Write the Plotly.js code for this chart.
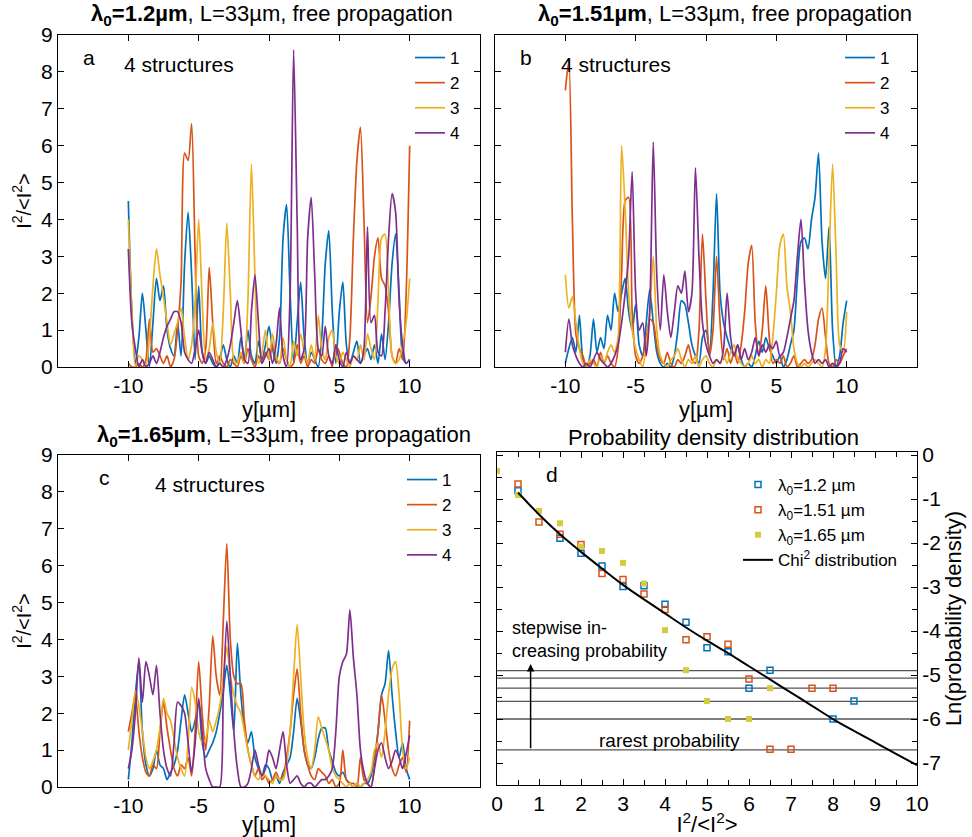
<!DOCTYPE html>
<html>
<head>
<meta charset="utf-8">
<script src="https://cdn.plot.ly/plotly-3.0.1.min.js"></script>
<style>html,body{margin:0;padding:0;background:#fff;}#chart{width:972px;height:837px;}</style>
</head>
<body>
<div id="chart"></div>
<script>
// ---------- DATA ----------
// sampling positions y[µm] for panels a-c (step 0.25 from -10 to 10)
const yPos = [];
for (let i = 0; i <= 80; i++) yPos.push(-10 + 0.25 * i);

const seriesNames = ['1', '2', '3', '4'];

// Panel a: λ0 = 1.2 µm
const a1 = [4.5,1.5,0.1,0.8, 2.0,1.0,0.0,1.2, 2.4,1.8,2.2,1.0, 0.5,0.3,1.2,0.3, 2.8,4.2,2.5,0.2, 2.2,0.4,0.1,0.3, 0.1,0.0,0.2,0.6, 0.2,0.0,0.3,0.1, 0.8,0.2,1.0,0.3, 0.1,0.7,0.2,0.6, 1.1,0.5,0.1,0.8, 3.5,4.4,2.0,0.1, 1.2,2.3,0.8,0.1, 0.4,0.2,0.0,0.8, 2.8,3.7,1.5,0.1, 1.5,2.3,0.6,0.1, 0.4,0.7,0.1,0.3, 0.5,0.2,0.6,0.1, 0.9,0.2,1.2,2.8, 3.6,2.0,0.3,0.1, 0.2];
const a2 = [0.1,0.0,0.0,0.1, 0.0,0.2,1.3,0.4, 0.5,0.3,0.1,0.3, 0.0,0.2,1.0,2.3, 5.8,5.6,6.6,3.0, 0.3,0.1,0.5,2.7, 1.2,0.1,0.3,0.1, 0.0,0.2,0.1,0.0, 0.3,0.1,0.5,0.2, 0.0,0.3,0.1,0.4, 0.2,0.6,0.2,0.1, 0.5,0.2,0.0,0.1, 0.6,0.1,0.3,0.0, 0.2,0.1,0.5,0.2, 0.1,0.3,0.0,0.6, 0.4,0.1,0.0,0.8, 3.5,5.6,6.5,4.0, 1.2,1.9,3.0,3.5, 2.4,2.2,1.5,0.3, 0.1,0.5,0.2,2.0, 6.0];
const a3 = [4.0,1.5,0.0,0.3, 0.2,0.0,0.8,2.2, 3.2,2.5,1.9,1.2, 0.6,0.9,1.2,1.6, 0.8,0.2,0.6,1.8, 4.0,1.8,0.2,0.5, 1.2,0.4,0.1,1.5, 3.9,2.0,0.2,0.1, 0.4,0.1,1.8,5.5, 2.5,0.1,0.4,1.0, 0.2,0.9,0.3,0.1, 0.8,0.2,0.0,0.7, 0.3,0.9,0.4,0.1, 0.6,0.2,1.4,0.5, 0.2,0.8,1.0,0.3, 0.1,0.4,0.2,0.0, 0.3,0.2,0.6,0.2, 0.9,0.5,0.2,1.8, 3.5,3.6,2.0,0.3, 0.1,0.2,0.6,1.2, 2.4];
const a4 = [3.2,1.2,0.5,0.0, 0.2,0.0,0.1,0.3, 0.1,0.4,0.8,1.1, 1.3,1.5,1.5,1.2, 0.4,0.2,0.1,0.5, 1.0,0.4,0.1,0.4, 0.2,0.0,0.1,0.0, 0.2,0.6,1.2,1.8, 1.0,0.2,0.1,1.5, 2.5,1.2,0.1,0.3, 0.5,0.1,0.6,1.6, 0.3,0.0,2.0,8.6, 4.0,0.2,0.5,3.5, 4.6,2.5,0.5,0.3, 1.1,0.3,0.1,0.6, 0.2,0.0,0.4,0.1, 0.3,0.2,0.1,0.5, 3.8,1.2,1.4,0.4, 0.3,1.5,3.5,4.7, 4.2,1.8,0.6,0.1, 0.2];

// Panel b: λ0 = 1.51 µm
const b1 = [0.1,0.5,0.8,0.4, 1.4,0.2,0.0,0.3, 1.3,0.4,0.8,0.5, 1.4,1.0,2.0,1.5, 2.0,2.4,1.5,1.0, 1.7,0.6,0.3,1.2, 2.1,1.2,0.4,0.1, 0.0,0.1,0.0,0.3, 1.0,1.8,1.7,1.2, 0.6,0.3,0.1,0.8, 1.0,0.4,2.0,4.7, 2.0,1.2,0.8,0.5, 0.3,0.6,0.2,0.0, 0.1,0.0,0.3,0.7, 0.4,0.8,0.5,0.3, 0.1,0.3,0.0,0.2, 0.6,1.0,2.4,3.4, 3.5,3.2,4.0,4.6, 5.8,3.4,2.4,3.8, 1.0,0.0,0.3,1.2, 1.8];
const b2 = [7.5,8.3,4.0,0.9, 0.5,0.3,0.0,0.1, 0.2,0.0,0.4,0.1, 0.3,0.1,0.0,0.5, 2.5,4.5,4.6,1.5, 0.3,0.1,0.3,0.8, 1.3,1.2,0.6,0.2, 0.1,0.4,0.1,0.0, 0.2,0.1,0.3,0.6, 0.2,0.1,1.0,3.6, 1.8,0.3,1.0,3.0, 1.2,0.2,0.5,0.1, 0.4,0.1,0.6,1.5, 2.8,3.3,1.2,0.3, 1.0,2.2,0.8,0.1, 0.2,0.1,0.3,0.0, 0.1,0.3,0.0,0.1, 0.2,0.1,0.2,0.6, 1.3,1.6,0.8,0.1, 0.0,0.2,0.1,0.3, 0.5];
const b3 = [2.5,1.6,1.9,1.2, 0.5,0.1,0.0,0.2, 0.1,0.0,0.3,0.1, 0.4,0.6,0.4,0.8, 6.0,4.3,2.0,1.0, 0.5,0.2,0.0,0.6, 1.5,3.0,1.0,0.3, 0.1,0.0,0.2,0.3, 0.5,0.2,0.0,0.2, 0.1,0.3,0.0,0.2, 0.3,0.1,0.0,0.2, 0.1,0.3,0.1,0.4, 0.6,0.2,0.1,0.0, 0.1,0.3,0.1,0.2, 0.0,0.2,0.1,0.8, 2.0,3.3,3.6,2.2, 1.5,0.5,0.1,0.0, 0.1,0.0,0.1,0.2, 0.1,0.0,0.5,3.0, 5.5,3.0,0.6,0.4, 1.5];
const b4 = [0.4,1.3,0.6,0.3, 0.1,0.0,0.1,0.0, 0.2,0.4,0.2,0.1, 0.0,0.1,0.3,0.6, 1.2,2.0,3.0,5.3, 2.0,1.0,1.2,0.3, 1.5,6.1,2.5,1.0, 2.5,1.5,0.8,1.5, 2.2,2.0,2.6,1.5, 2.0,5.4,3.0,1.2, 0.6,0.3,0.1,0.2, 0.1,0.5,2.0,0.8, 0.3,0.6,0.2,0.5, 0.2,0.4,0.8,0.3, 0.6,0.4,0.6,0.5, 0.7,0.3,0.4,0.8, 1.3,1.8,3.0,4.0, 2.3,1.0,0.4,0.1, 0.2,0.1,0.2,0.0, 0.1,0.0,0.1,0.5, 0.4];

// Panel c: λ0 = 1.65 µm
const c1 = [0.2,1.2,2.5,3.4, 1.5,0.6,0.3,0.5, 1.0,0.6,0.5,0.2, 0.4,0.6,1.0,1.8, 2.5,2.0,1.5,1.8, 2.3,1.2,0.8,1.0, 1.2,1.5,2.0,2.6, 3.3,2.5,1.5,3.9, 2.5,1.6,1.2,1.5, 0.8,0.5,0.3,0.6, 0.5,0.2,0.3,0.1, 0.4,0.6,0.8,1.5, 2.4,1.8,1.0,0.6, 0.5,0.8,1.3,1.6, 1.6,1.0,0.7,0.4, 0.3,0.4,0.2,0.1, 0.0,0.1,0.0,0.1, 0.1,0.3,0.8,1.5, 2.5,2.8,3.7,2.5, 1.5,0.8,1.2,0.5, 0.2];
const c2 = [1.5,2.0,2.5,1.5, 0.8,0.4,0.3,0.6, 0.5,1.5,2.3,1.6, 1.0,0.5,0.3,0.6, 0.5,0.8,0.3,1.5, 3.4,2.0,1.0,2.2, 4.1,3.0,2.5,4.5, 6.6,4.0,3.0,2.8, 2.8,1.8,1.0,0.6, 0.3,0.5,0.2,0.3, 0.1,0.2,0.4,0.2, 0.3,0.8,1.5,2.5, 3.2,2.0,1.0,0.6, 0.3,0.2,0.5,0.4, 0.3,0.1,0.2,0.0, 0.1,1.0,0.2,0.1, 0.1,0.0,0.8,0.2, 0.1,0.0,0.6,1.5, 2.5,1.8,1.0,0.5, 0.3,0.6,0.8,0.4, 1.8];
const c3 = [1.0,1.8,2.6,2.2, 1.5,0.8,0.5,0.7, 1.0,1.6,2.4,2.0, 1.8,1.3,0.8,0.5, 0.3,1.2,2.7,2.3, 1.5,1.2,1.3,1.8, 1.5,1.8,2.2,3.0, 3.8,3.0,2.5,2.2, 2.0,1.5,1.0,0.6, 0.3,0.2,0.4,0.3, 0.2,0.1,0.3,0.2, 0.2,0.6,1.5,3.0, 4.4,3.0,1.5,0.8, 0.5,1.0,1.9,1.6, 1.3,1.0,0.5,0.3, 0.2,0.1,0.0,0.1, 0.0,0.1,0.0,0.1, 0.2,0.4,1.0,1.2, 0.8,1.5,2.5,3.2, 3.4,2.5,1.0,0.5, 0.8];
const c4 = [0.5,1.0,2.0,3.5, 2.3,3.4,3.0,2.5, 3.3,2.0,1.0,0.5, 0.3,1.2,2.3,2.2, 2.0,1.2,0.4,1.2, 2.4,1.5,0.5,0.2, 0.0,0.0,0.0,2.5, 4.5,3.0,1.5,0.5, 0.0,0.0,0.1,0.5, 1.0,0.6,0.3,0.5, 1.0,0.8,0.5,1.0, 1.5,0.6,0.1,0.2, 0.3,0.1,0.0,0.1, 0.1,0.0,0.1,0.2, 0.2,0.3,0.5,1.5, 3.0,3.4,3.6,4.8, 3.5,2.5,1.0,0.4, 0.1,0.0,0.5,1.0, 1.2,0.8,0.5,0.7, 1.0,0.8,0.5,0.9, 1.4];

// Panel d: probability density distribution
const d12x = [0.5,1.5,2,2.5,3,3.5,4,4.5,5,5.5,6,6.5,8,8.5];
const d12y = [-0.81,-1.89,-2.23,-2.52,-2.99,-2.97,-3.39,-3.8,-4.38,-4.47,-5.3,-4.89,-6.0,-5.59];
const d151x = [0.5,1,1.5,2,2.5,3,3.5,4,4.5,5,5.5,6,6.5,7,7.5,8];
const d151y = [-0.66,-1.52,-1.8,-2.03,-2.69,-2.83,-3.16,-3.51,-4.2,-4.13,-4.3,-5.09,-6.69,-6.69,-5.3,-5.3];
const d165x = [0,0.5,1,1.5,2,2.5,3,3.5,4,4.5,5,5.5,6,6.5];
const d165y = [-0.36,-0.91,-1.27,-1.55,-2.08,-2.18,-2.45,-2.92,-3.98,-4.89,-5.59,-6.0,-6.0,-5.3];
const chiX = [0.5,1,1.5,2,2.5,3,3.5,4,4.5,5,5.5,6,6.5,7,7.5,8,8.5,9,9.5,10];
const chiY = [-0.85,-1.35,-1.8,-2.2,-2.58,-2.95,-3.28,-3.6,-3.92,-4.22,-4.5,-4.8,-5.1,-5.4,-5.7,-6.0,-6.27,-6.53,-6.79,-7.05];
const levels = [-4.9,-5.07,-5.3,-5.6,-6.0,-6.7];

// tick labels
const xTickVals = [-10,-5,0,5,10];
const xTickText = ['-10','-5','0','5','10'];
const yTickVals = [0,1,2,3,4,5,6,7,8,9];
const yTickText = ['0','1','2','3','4','5','6','7','8','9'];
const dxTickVals = [0,1,2,3,4,5,6,7,8,9,10];
const dxTickText = ['0','1','2','3','4','5','6','7','8','9','10'];
const dyTickVals = [0,-1,-2,-3,-4,-5,-6,-7];
const dyTickText = ['0','-1','-2','-3','-4','-5','-6','-7'];

// ---------- STYLE ----------
const colors = ['#0072BD', '#D95319', '#EDB120', '#7E2F8E'];
const FONT = 'Liberation Sans, Arial, Helvetica, sans-serif';
const TICK = 21, TTL = 22, TXT = 21;

const traces = [];
function addPanel(arrs, xa, ya, leg) {
  arrs.forEach((arr, k) => {
    traces.push({
      x: yPos, y: arr, type: 'scatter', mode: 'lines',
      name: seriesNames[k], xaxis: xa, yaxis: ya, legend: leg,
      line: {color: colors[k], width: 1.7, shape: 'spline', smoothing: 0.7}
    });
  });
}
addPanel([a1,a2,a3,a4], 'x', 'y', 'legend');
addPanel([b1,b2,b3,b4], 'x2', 'y2', 'legend2');
addPanel([c1,c2,c3,c4], 'x3', 'y3', 'legend3');

traces.push({x: d12x, y: d12y, type: 'scatter', mode: 'markers', name: 'λ<sub>0</sub>=1.2 µm',
  xaxis: 'x4', yaxis: 'y4', legend: 'legend4',
  marker: {symbol: 'square-open', size: 6, color: colors[0], line: {width: 1.5, color: colors[0]}}});
traces.push({x: d151x, y: d151y, type: 'scatter', mode: 'markers', name: 'λ<sub>0</sub>=1.51 µm',
  xaxis: 'x4', yaxis: 'y4', legend: 'legend4',
  marker: {symbol: 'square-open', size: 6, color: colors[1], line: {width: 1.5, color: colors[1]}}});
traces.push({x: d165x, y: d165y, type: 'scatter', mode: 'markers', name: 'λ<sub>0</sub>=1.65 µm',
  xaxis: 'x4', yaxis: 'y4', legend: 'legend4',
  marker: {symbol: 'square', size: 6, color: '#d4cc3c', line: {width: 0}}});
traces.push({x: chiX, y: chiY, type: 'scatter', mode: 'lines', name: 'Chi<sup>2</sup> distribution',
  xaxis: 'x4', yaxis: 'y4', legend: 'legend4',
  line: {color: '#000', width: 2, shape: 'spline'}});

const W = 972, H = 837;
const px = v => v / W, py = v => 1 - v / H;

function baseAxis(extra) {
  return Object.assign({
    showline: true, linecolor: '#000', linewidth: 1, mirror: 'ticks',
    ticks: 'inside', ticklen: 6, tickcolor: '#000', tickwidth: 1,
    showgrid: false, zeroline: false,
    tickfont: {family: FONT, size: TICK, color: '#000'},
    fixedrange: true
  }, extra);
}
const xTitleFont = {family: FONT, size: TTL, color: '#000'};
const yTitleFont = {family: FONT, size: 20, color: '#000'};
const legFont = {family: FONT, size: 17, color: '#000'};

function ann(text, xref, yref, x, y, size, extra) {
  return Object.assign({text: text, xref: xref, yref: yref, x: x, y: y, xanchor: 'center', yanchor: 'middle',
    showarrow: false, font: {family: FONT, size: size, color: '#000'}}, extra || {});
}

const layout = {
  width: W, height: H,
  margin: {l: 0, r: 0, t: 0, b: 0},
  paper_bgcolor: '#fff', plot_bgcolor: '#fff',
  font: {family: FONT, color: '#000'},
  showlegend: true,
  xaxis: baseAxis({domain: [px(58), px(480)], anchor: 'y', range: [-15, 15], tickvals: xTickVals, ticktext: xTickText,
    title: {text: 'y[µm]', font: xTitleFont, standoff: 0}}),
  yaxis: baseAxis({domain: [py(367), py(35)], anchor: 'x', range: [0, 9], tickvals: yTickVals, ticktext: yTickText,
    title: {text: 'I<sup>2</sup>/&lt;I<sup>2</sup>&gt;', font: yTitleFont, standoff: 4}}),
  xaxis2: baseAxis({domain: [px(495), px(917)], anchor: 'y2', range: [-15, 15], tickvals: xTickVals, ticktext: xTickText,
    title: {text: 'y[µm]', font: xTitleFont, standoff: 0}}),
  yaxis2: baseAxis({domain: [py(367), py(35)], anchor: 'x2', range: [0, 9], tickvals: yTickVals, showticklabels: false}),
  xaxis3: baseAxis({domain: [px(58), px(480)], anchor: 'y3', range: [-15, 15], tickvals: xTickVals, ticktext: xTickText,
    title: {text: 'y[µm]', font: xTitleFont, standoff: 0}}),
  yaxis3: baseAxis({domain: [py(787), py(455)], anchor: 'x3', range: [0, 9], tickvals: yTickVals, ticktext: yTickText,
    title: {text: 'I<sup>2</sup>/&lt;I<sup>2</sup>&gt;', font: yTitleFont, standoff: 4}}),
  xaxis4: baseAxis({domain: [px(497), px(917)], anchor: 'y4', range: [0, 10], tickvals: dxTickVals, ticktext: dxTickText,
    minor: {dtick: 0.5, tick0: 0, ticks: 'inside', ticklen: 5, tickcolor: '#000'},
    title: {text: 'I<sup>2</sup>/&lt;I<sup>2</sup>&gt;', font: xTitleFont, standoff: 0}}),
  yaxis4: baseAxis({domain: [py(785), py(452)], anchor: 'x4', side: 'right', range: [-7.5, 0.07], tickvals: dyTickVals, ticktext: dyTickText,
    minor: {dtick: 0.5, tick0: 0, ticks: 'inside', ticklen: 5, tickcolor: '#000'},
    title: {text: 'Ln(probability density)', font: xTitleFont, standoff: 2}}),
  legend: {x: px(410), y: py(40), xanchor: 'left', yanchor: 'top', bgcolor: 'rgba(0,0,0,0)', font: legFont, tracegroupgap: 0},
  legend2: {x: px(840), y: py(40), xanchor: 'left', yanchor: 'top', bgcolor: 'rgba(0,0,0,0)', font: legFont, tracegroupgap: 0},
  legend3: {x: px(402), y: py(462), xanchor: 'left', yanchor: 'top', bgcolor: 'rgba(0,0,0,0)', font: legFont, tracegroupgap: 0},
  legend4: {x: px(738), y: py(467), xanchor: 'left', yanchor: 'top', bgcolor: 'rgba(0,0,0,0)', font: legFont, tracegroupgap: 0},
  shapes: levels.map(v => ({type: 'line', xref: 'x4 domain', x0: 0, x1: 1, yref: 'y4', y0: v, y1: v,
    line: {color: '#555', width: 1.3}, layer: 'below'})),
  annotations: [
    ann('<b>λ<sub>0</sub>=1.2µm</b>, L=33µm, free propagation', 'paper', 'paper', px(272), py(15), TTL),
    ann('<b>λ<sub>0</sub>=1.51µm</b>, L=33µm, free propagation', 'paper', 'paper', px(725), py(15), TTL),
    ann('<b>λ<sub>0</sub>=1.65µm</b>, L=33µm, free propagation', 'paper', 'paper', px(284), py(436), TTL),
    ann('Probability density distribution', 'paper', 'paper', px(713), py(437), TTL),
    ann('a', 'x', 'y', -12.8, 8.4, TXT),
    ann('4 structures', 'x', 'y', -6.4, 8.2, TXT),
    ann('b', 'x2', 'y2', -12.8, 8.4, TXT),
    ann('4 structures', 'x2', 'y2', -6.4, 8.2, TXT),
    ann('c', 'x3', 'y3', -11.7, 8.4, TXT),
    ann('4 structures', 'x3', 'y3', -4.2, 8.2, TXT),
    ann('d', 'x4', 'y4', 1.31, -0.45, TXT),
    ann('stepwise in-<br>creasing probability', 'x4', 'y4', 0.31, -4.2, 18, {xanchor: 'left', align: 'left'}),
    ann('rarest probability', 'x4', 'y4', 4.1, -6.48, 19),
    {text: '', xref: 'x4', yref: 'y4', axref: 'x4', ayref: 'y4', x: 0.8, y: -4.75, ax: 0.8, ay: -6.7,
      showarrow: true, arrowhead: 2, arrowsize: 1, arrowwidth: 1.5, arrowcolor: '#000'}
  ]
};

Plotly.newPlot('chart', traces, layout, {displayModeBar: false, staticPlot: true});
</script>
</body>
</html>
